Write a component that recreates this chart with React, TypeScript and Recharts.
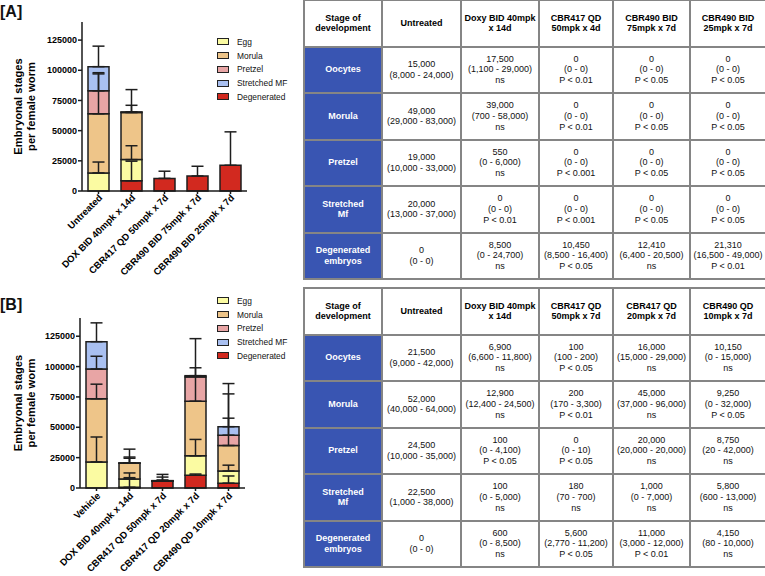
import React from "react";
import { BarChart, Bar, XAxis, YAxis, Legend, ErrorBar } from "recharts";

// ---- chart A ----
const categoriesA = [
  "Untreated",
  "DOX BID 40mpk x 14d",
  "CBR417 QD 50mpk x 7d",
  "CBR490 BID 75mpk x 7d",
  "CBR490 BID 25mpk x 7d",
];
const degenA = [0, 8500, 10450, 12410, 21310];
const eggA = [15000, 17500, 0, 0, 0];
const morulaA = [49000, 39000, 0, 0, 0];
const pretzelA = [19000, 550, 0, 0, 0];
const stretchedA = [20000, 0, 0, 0, 0];
// upper error (above each segment top)
const degenErrA = [0, 16200, 5950, 8090, 27690];
const eggErrA = [9000, 11500, 0, 0, 0];
const morulaErrA = [34000, 19000, 0, 0, 0];
const pretzelErrA = [14000, 5450, 0, 0, 0];
const stretchedErrA = [17000, 0, 0, 0, 0];

// ---- chart B ----
const categoriesB = [
  "Vehicle",
  "DOX BID 40mpk x 14d",
  "CBR417 QD 50mpk x 7d",
  "CBR417 QD 20mpk x 7d",
  "CBR490 QD 10mpk x 7d",
];
const degenB = [0, 600, 5600, 10500, 4000];
const eggB = [21500, 6900, 100, 16000, 10000];
const morulaB = [52000, 12900, 200, 45000, 21000];
const pretzelB = [24500, 100, 0, 20000, 8500];
const stretchedB = [22500, 100, 180, 1000, 7000];
const degenErrB = [0, 7900, 5600, 1000, 5900];
const eggErrB = [20500, 4900, 100, 13500, 4800];
const morulaErrB = [12000, 11600, 3100, 51500, 22500];
const pretzelErrB = [10500, 4000, 10, 0, 34000];
const stretchedErrB = [15500, 4900, 520, 6500, 35500];

const yTicks = [0, 25000, 50000, 75000, 100000, 125000];
const legendOrder = ["Egg", "Morula", "Pretzel", "Stretched MF", "Degenerated"];

// ---- tables ----
const stageLabels = ["Oocytes", "Morula", "Pretzel", "Stretched\nMf", "Degenerated\nembryos"];
const headersA = [
  "Stage of\ndevelopment",
  "Untreated",
  "Doxy BID 40mpk\nx 14d",
  "CBR417 QD\n50mpk x 4d",
  "CBR490 BID\n75mpk x 7d",
  "CBR490 BID\n25mpk x 7d",
];
const cellsA = [
  ["15,000\n(8,000 - 24,000)", "17,500\n(1,100 - 29,000)\nns", "0\n(0 - 0)\nP < 0.01", "0\n(0 - 0)\nP < 0.05", "0\n(0 - 0)\nP < 0.05"],
  ["49,000\n(29,000 - 83,000)", "39,000\n(700 - 58,000)\nns", "0\n(0 - 0)\nP < 0.01", "0\n(0 - 0)\nP < 0.05", "0\n(0 - 0)\nP < 0.05"],
  ["19,000\n(10,000 - 33,000)", "550\n(0 - 6,000)\nns", "0\n(0 - 0)\nP < 0.001", "0\n(0 - 0)\nP < 0.05", "0\n(0 - 0)\nP < 0.05"],
  ["20,000\n(13,000 - 37,000)", "0\n(0 - 0)\nP < 0.01", "0\n(0 - 0)\nP < 0.001", "0\n(0 - 0)\nP < 0.05", "0\n(0 - 0)\nP < 0.05"],
  ["0\n(0 - 0)", "8,500\n(0 - 24,700)\nns", "10,450\n(8,500 - 16,400)\nP < 0.05", "12,410\n(6,400 - 20,500)\nns", "21,310\n(16,500 - 49,000)\nP < 0.01"],
];
const headersB = [
  "Stage of\ndevelopment",
  "Untreated",
  "Doxy BID 40mpk\nx 14d",
  "CBR417 QD\n50mpk x 7d",
  "CBR417 QD\n20mpk x 7d",
  "CBR490 QD\n10mpk x 7d",
];
const cellsB = [
  ["21,500\n(9,000 - 42,000)", "6,900\n(6,600 - 11,800)\nns", "100\n(100 - 200)\nP < 0.05", "16,000\n(15,000 - 29,000)\nns", "10,150\n(0 - 15,000)\nns"],
  ["52,000\n(40,000 - 64,000)", "12,900\n(12,400 - 24,500)\nns", "200\n(170 - 3,300)\nP < 0.01", "45,000\n(37,000 - 96,000)\nns", "9,250\n(0 - 32,000)\nP < 0.05"],
  ["24,500\n(10,000 - 35,000)", "100\n(0 - 4,100)\nP < 0.05", "0\n(0 - 10)\nP < 0.05", "20,000\n(20,000 - 20,000)\nns", "8,750\n(20 - 42,000)\nns"],
  ["22,500\n(1,000 - 38,000)", "100\n(0 - 5,000)\nns", "180\n(70 - 700)\nns", "1,000\n(0 - 7,000)\nns", "5,800\n(600 - 13,000)\nns"],
  ["0\n(0 - 0)", "600\n(0 - 8,500)\nns", "5,600\n(2,770 - 11,200)\nP < 0.05", "11,000\n(3,000 - 12,000)\nP < 0.01", "4,150\n(80 - 10,000)\nns"],
];

const FONT = '"Liberation Sans", Arial, Helvetica, sans-serif';

const series = [
  { key: "degen", name: "Degenerated", color: "#d2291f" },
  { key: "egg", name: "Egg", color: "#fbfba2" },
  { key: "morula", name: "Morula", color: "#eec589" },
  { key: "pretzel", name: "Pretzel", color: "#e8a5a5" },
  { key: "stretched", name: "Stretched MF", color: "#a9c0f1" },
];

const err = (v: number) => (v > 0 ? [0, v] : null);

const buildRows = (cats: string[], vals: number[][], errs: number[][]) =>
  cats.map((name, i) => {
    const row: any = { name };
    series.forEach((s, k) => {
      row[s.key] = vals[k][i];
      row[s.key + "Err"] = err(errs[k][i]);
    });
    return row;
  });

const dataA = buildRows(
  categoriesA,
  [degenA, eggA, morulaA, pretzelA, stretchedA],
  [degenErrA, eggErrA, morulaErrA, pretzelErrA, stretchedErrA]
);
const dataB = buildRows(
  categoriesB,
  [degenB, eggB, morulaB, pretzelB, stretchedB],
  [degenErrB, eggErrB, morulaErrB, pretzelErrB, stretchedErrB]
);

const YLabel = ({ viewBox }: any) => {
  const cx = viewBox.x + 24.5;
  const cy = viewBox.y + viewBox.height / 2;
  return (
    <text
      transform={`rotate(-90, ${cx}, ${cy})`}
      textAnchor="middle"
      fontSize={11.2}
      fontWeight="bold"
      fill="#000"
      fontFamily={FONT}
    >
      <tspan x={cx} y={cy - 2.6}>Embryonal stages</tspan>
      <tspan x={cx} y={cy + 10.6}>per female worm</tspan>
    </text>
  );
};

// rotated category label, kept on one line
const XTick = ({ x, y, payload, shift = 0 }: any) => (
  <g transform={`translate(${x + 2},${y + shift})`}>
    <text
      x={0}
      y={0}
      dy={3.4}
      textAnchor="end"
      transform="rotate(-45)"
      fontSize={9.5}
      fontWeight="bold"
      fill="#000"
      fontFamily={FONT}
    >
      {payload.value}
    </text>
  </g>
);

const StageLegend = () => (
  <div style={{ fontFamily: FONT }}>
    {legendOrder.map((n) => {
      const s = series.find((x) => x.name === n)!;
      return (
        <div key={n} style={{ display: "flex", alignItems: "center", height: 13.75 }}>
          <span
            style={{
              display: "inline-block",
              width: 10,
              height: 5,
              border: "1px solid #222",
              background: s.color,
              marginRight: 8,
            }}
          />
          <span style={{ fontSize: 8.4, color: "#111" }}>{n}</span>
        </div>
      );
    })}
  </div>
);

interface StageChartProps {
  data: any[];
  height: number;
  top: number;
  bottom: number;
  axisWidth: number;
  legendTop: number;
  tickShift: number;
}

const StageChart: React.FC<StageChartProps> = ({ data, height, top, bottom, axisWidth, legendTop, tickShift }) => (
  <BarChart
    width={300}
    height={height}
    data={data}
    margin={{ top, right: 300 - axisWidth - 165, left: 0, bottom: 0 }}
    barSize={21}
    style={{ fontFamily: FONT }}
  >
    <XAxis
      dataKey="name"
      height={bottom}
      interval={0}
      stroke="#1a1a1a"
      strokeWidth={1.5}
      tickSize={3}
      tickMargin={2}
      tick={<XTick shift={tickShift} />}
    />
    <YAxis
      domain={[0, 140000]}
      ticks={yTicks}
      width={axisWidth}
      stroke="#1a1a1a"
      strokeWidth={1.5}
      tickSize={4}
      tickMargin={1}
      tick={{ fontSize: 9, fontWeight: "bold", fill: "#000" }}
      label={<YLabel />}
    />
    <Legend
      layout="vertical"
      align="center"
      verticalAlign="middle"
      content={<StageLegend />}
      wrapperStyle={{ left: 217, top: legendTop, width: 85 }}
    />
    {series.map((s) => (
      <Bar
        key={s.key}
        dataKey={s.key}
        name={s.name}
        stackId="a"
        fill={s.color}
        stroke="#1e1e1e"
        strokeWidth={1.5}
        isAnimationActive={false}
      >
        <ErrorBar dataKey={s.key + "Err"} width={6} strokeWidth={1.5} stroke="#1e1e1e" direction="y" />
      </Bar>
    ))}
  </BarChart>
);

const colWidths = [78, 79, 78, 74, 77, 76];
const border = "2px solid #858585";

const DataTable: React.FC<{ headers: string[]; cells: string[][]; top: number }> = ({ headers, cells, top }) => (
  <table
    style={{
      position: "absolute",
      left: 303,
      top,
      width: 464,
      height: 279,
      borderCollapse: "collapse",
      tableLayout: "fixed",
      fontFamily: FONT,
      fontSize: 9,
      lineHeight: "10.7px",
      textAlign: "center",
      whiteSpace: "pre-line",
      color: "#111",
    }}
  >
    <colgroup>
      {colWidths.map((w, i) => (
        <col key={i} style={{ width: w }} />
      ))}
    </colgroup>
    <tbody>
      <tr style={{ height: 46.5 }}>
        {headers.map((h, i) => (
          <td key={i} style={{ border, fontWeight: "bold", color: "#000", padding: 0 }}>
            {h}
          </td>
        ))}
      </tr>
      {cells.map((row, r) => (
        <tr key={r} style={{ height: 46.5 }}>
          <td
            style={{
              border,
              background: "#3955b2",
              color: "#fff",
              fontWeight: "bold",
              padding: 0,
            }}
          >
            {stageLabels[r]}
          </td>
          {row.map((c, i) => (
            <td key={i} style={{ border, padding: 0 }}>
              {c}
            </td>
          ))}
        </tr>
      ))}
    </tbody>
  </table>
);

const panelLabel: React.CSSProperties = {
  position: "absolute",
  left: 0,
  fontFamily: FONT,
  fontWeight: "bold",
  fontSize: 16,
  color: "#111",
};

export default function App() {
  return (
    <div style={{ position: "absolute", left: 0, top: 0, width: 765, height: 576, background: "#fff", overflow: "hidden" }}>
      <div style={{ ...panelLabel, top: 3 }}>[A]</div>
      <div style={{ ...panelLabel, top: 296 }}>[B]</div>
      <div style={{ position: "absolute", left: 0, top: 0 }}>
        <StageChart data={dataA} height={290} top={22} bottom={99} axisWidth={82} legendTop={35} tickShift={0} />
      </div>
      <div style={{ position: "absolute", left: 0, top: 290 }}>
        <StageChart data={dataB} height={286} top={28} bottom={88} axisWidth={80} legendTop={4} tickShift={1} />
      </div>
      <DataTable headers={headersA} cells={cellsA} top={-1} />
      <DataTable headers={headersB} cells={cellsB} top={287} />
    </div>
  );
}
